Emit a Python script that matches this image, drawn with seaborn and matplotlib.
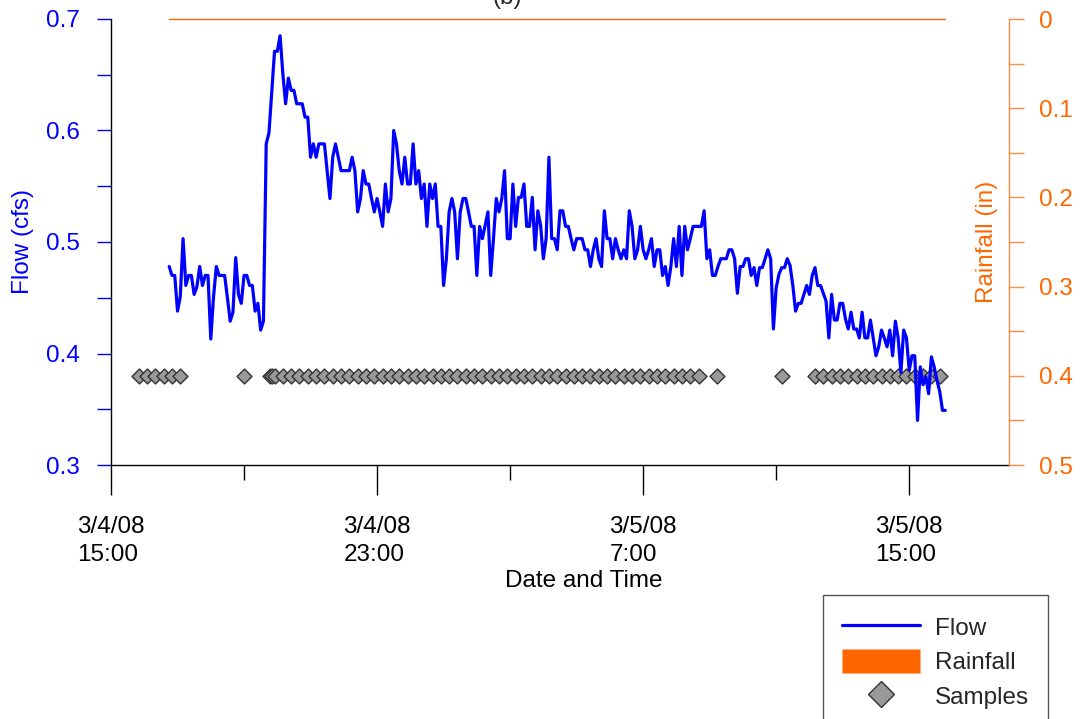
import pandas as pd
import numpy as np
import matplotlib
matplotlib.use("Agg")
import matplotlib.pyplot as plt
import matplotlib.dates as mdates
from matplotlib.ticker import MultipleLocator, FuncFormatter
from matplotlib.lines import Line2D
from matplotlib.patches import Patch
import seaborn as sns

# --- data ---
# flow (cfs), 5-minute record starting 3/4/08 16:45
flow_start = "2008-03-04 16:45"
flow_cfs = [
    0.478, 0.470, 0.470, 0.438, 0.451, 0.503, 0.461, 0.470, 0.470, 0.453,
    0.460, 0.478, 0.461, 0.470, 0.470, 0.413, 0.451, 0.478, 0.470, 0.470,
    0.470, 0.450, 0.429, 0.437, 0.486, 0.453, 0.445, 0.470, 0.470, 0.461,
    0.461, 0.438, 0.445, 0.421, 0.429, 0.588, 0.598, 0.635, 0.671, 0.671,
    0.685, 0.651, 0.624, 0.647, 0.636, 0.636, 0.624, 0.624, 0.624, 0.612,
    0.612, 0.576, 0.588, 0.576, 0.588, 0.588, 0.588, 0.563, 0.539, 0.576,
    0.588, 0.576, 0.564, 0.564, 0.564, 0.564, 0.576, 0.564, 0.527, 0.539,
    0.564, 0.552, 0.552, 0.539, 0.527, 0.539, 0.527, 0.514, 0.552, 0.527,
    0.539, 0.600, 0.588, 0.564, 0.552, 0.576, 0.552, 0.552, 0.588, 0.552,
    0.564, 0.539, 0.552, 0.514, 0.552, 0.539, 0.552, 0.514, 0.514, 0.461,
    0.485, 0.527, 0.539, 0.527, 0.485, 0.527, 0.539, 0.539, 0.527, 0.514,
    0.514, 0.470, 0.514, 0.503, 0.515, 0.527, 0.470, 0.503, 0.539, 0.527,
    0.539, 0.564, 0.503, 0.503, 0.552, 0.514, 0.540, 0.540, 0.552, 0.514,
    0.514, 0.540, 0.493, 0.528, 0.515, 0.485, 0.503, 0.576, 0.503, 0.503,
    0.493, 0.528, 0.528, 0.514, 0.514, 0.503, 0.493, 0.503, 0.503, 0.503,
    0.493, 0.493, 0.478, 0.493, 0.503, 0.485, 0.478, 0.528, 0.503, 0.503,
    0.485, 0.503, 0.493, 0.485, 0.493, 0.485, 0.528, 0.514, 0.485, 0.493,
    0.514, 0.493, 0.485, 0.493, 0.503, 0.478, 0.493, 0.493, 0.470, 0.478,
    0.461, 0.478, 0.503, 0.478, 0.514, 0.470, 0.514, 0.493, 0.503, 0.514,
    0.514, 0.514, 0.514, 0.528, 0.485, 0.493, 0.470, 0.470, 0.478, 0.485,
    0.485, 0.485, 0.493, 0.493, 0.485, 0.454, 0.478, 0.478, 0.485, 0.485,
    0.470, 0.477, 0.461, 0.477, 0.477, 0.485, 0.493, 0.485, 0.422, 0.459,
    0.471, 0.477, 0.477, 0.485, 0.479, 0.461, 0.438, 0.445, 0.445, 0.453,
    0.461, 0.453, 0.470, 0.477, 0.461, 0.461, 0.454, 0.447, 0.414, 0.453,
    0.430, 0.430, 0.445, 0.445, 0.431, 0.422, 0.437, 0.422, 0.422, 0.414,
    0.437, 0.414, 0.414, 0.430, 0.414, 0.398, 0.406, 0.421, 0.414, 0.406,
    0.421, 0.398, 0.429, 0.414, 0.383, 0.421, 0.414, 0.385, 0.398, 0.398,
    0.340, 0.388, 0.372, 0.379, 0.364, 0.397, 0.388, 0.376, 0.366, 0.349,
    0.349,
]

# rainfall (in), 20-minute record over the same period (no rain fell)
rain_start = "2008-03-04 16:45"
rain_in = [0.0] * 71

# sample collection times
samples_mar4 = [
    "15:50", "16:05", "16:20", "16:35", "16:50", "17:05", "19:00",
    "19:46", "19:50", "19:55", "20:10", "20:25", "20:40", "20:55", "21:10",
    "21:25", "21:40", "21:55", "22:10", "22:25", "22:40", "22:55", "23:10",
    "23:25", "23:40", "23:55",
]
samples_mar5 = [
    "00:10", "00:25", "00:40", "00:55", "01:10", "01:25", "01:40", "01:55",
    "02:10", "02:25", "02:40", "02:55", "03:10", "03:25", "03:40", "03:55",
    "04:10", "04:25", "04:40", "04:55", "05:10", "05:25", "05:40", "05:55",
    "06:10", "06:25", "06:40", "06:55", "07:10", "07:25", "07:40", "07:55",
    "08:10", "08:25", "08:40", "09:13", "11:10",
    "12:10", "12:25", "12:40", "12:55", "13:10", "13:25", "13:40", "13:55",
    "14:10", "14:25", "14:40", "14:55", "15:10", "15:25", "15:40", "15:55",
]
sample_level = 0.38  # plotted on the flow axis

FLOW_C = "#0000FF"
RAIN_C = "#FF6600"
FS = 17.5

flow_df = pd.DataFrame({
    "time": pd.date_range(flow_start, periods=len(flow_cfs), freq="5min"),
    "flow": flow_cfs,
})
rain_df = pd.DataFrame({
    "time": pd.date_range(rain_start, periods=len(rain_in), freq="20min"),
    "rain": rain_in,
})
sample_times = ["2008-03-04 " + t for t in samples_mar4] + ["2008-03-05 " + t for t in samples_mar5]
samp_df = pd.DataFrame({"time": pd.to_datetime(sample_times)})
samp_df["level"] = sample_level

sns.set_theme(style="white")
plt.rcParams["font.family"] = ["Liberation Sans", "DejaVu Sans"]

fig = plt.figure(figsize=(10.81, 7.19), dpi=100)
ax = fig.add_axes([111 / 1081, 1 - 465 / 719, 898 / 1081, 446 / 719])
ax2 = ax.twinx()

# samples below the flow line
sns.scatterplot(data=samp_df, x="time", y="level", ax=ax, marker="D", s=58,
                color="#999999", edgecolor="#333333", linewidth=1, zorder=2, legend=False)
sns.lineplot(data=flow_df, x="time", y="flow", ax=ax, color=FLOW_C, linewidth=2.3,
             zorder=3, legend=False)
sns.lineplot(data=rain_df, x="time", y="rain", ax=ax2, color=RAIN_C, linewidth=1,
             legend=False, clip_on=False)

# x axis
ax.set_xlim(pd.Timestamp("2008-03-04 15:00"), pd.Timestamp("2008-03-05 18:00"))
ax.xaxis.set_major_locator(mdates.HourLocator(byhour=[7, 15, 23]))
ax.xaxis.set_minor_locator(mdates.HourLocator(byhour=[3, 11, 19]))


def fmt_date(v, pos):
    d = mdates.num2date(v)
    return f"{d.month}/{d.day}/{d:%y}\n{d.hour}:{d:%M}"


ax.xaxis.set_major_formatter(FuncFormatter(fmt_date))
ax.tick_params(axis="x", which="major", bottom=True, direction="out", length=21.6,
               width=1, color="black", pad=15, labelsize=FS, labelcolor="black")
ax.tick_params(axis="x", which="minor", bottom=True, direction="out", length=10.8,
               width=1, color="black")
ax.set_xlabel("Date and Time", fontsize=FS, color="black")
ax.xaxis.set_label_coords((584 - 111) / 898, (465 - 570) / 446)

# flow axis
ax.set_ylim(0.3, 0.7)
ax.yaxis.set_major_locator(MultipleLocator(0.1))
ax.yaxis.set_minor_locator(MultipleLocator(0.05))
ax.yaxis.set_major_formatter(FuncFormatter(lambda v, p: f"{v:.1f}"))
ax.tick_params(axis="y", which="both", left=True, direction="out", length=10.3,
               width=1, color=FLOW_C, labelcolor=FLOW_C, labelsize=FS, pad=12)
ax.set_ylabel("Flow (cfs)", fontsize=FS, color=FLOW_C)
ax.yaxis.set_label_coords((34 - 111) / 898, 0.5)

# rainfall axis, inverted
ax2.set_ylim(0.5, 0)
ax2.yaxis.set_major_locator(MultipleLocator(0.1))
ax2.yaxis.set_minor_locator(MultipleLocator(0.05))
ax2.yaxis.set_major_formatter(FuncFormatter(lambda v, p: f"{v:g}"))
ax2.tick_params(axis="y", which="both", right=True, direction="out", length=10.8,
                width=1, color="#FF8C40", labelcolor=RAIN_C, labelsize=FS, pad=11)
ax2.set_ylabel("Rainfall (in)", fontsize=FS, color=RAIN_C)
ax2.yaxis.set_label_coords((976 - 111) / 898, 0.5)

for a in (ax, ax2):
    a.grid(False)
    a.spines["top"].set_visible(False)
ax.spines["right"].set_visible(False)
ax.spines["left"].set_color("black")
ax.spines["bottom"].set_color("black")
ax.spines["left"].set_linewidth(1)
ax.spines["bottom"].set_linewidth(1)
ax2.spines["left"].set_visible(False)
ax2.spines["bottom"].set_visible(False)
ax2.spines["right"].set_color("#FF8C40")
ax2.spines["right"].set_linewidth(1)
ax.patch.set_visible(False)

# partial title at the very top (cut off by the figure edge, as in the source)
fig.text(507 / 1081, 1 - 9 / 719, "(b)", ha="center", va="bottom", fontsize=FS)

handles = [
    Line2D([], [], color=FLOW_C, linewidth=2.3),
    Patch(facecolor=RAIN_C, edgecolor="#FFB080", linewidth=0.5),
    Line2D([], [], marker="D", linestyle="none", markersize=13,
           markerfacecolor="#999999", markeredgecolor="#333333"),
]
leg = fig.legend(handles, ["Flow", "Rainfall", "Samples"], loc="upper left",
                 bbox_to_anchor=(823 / 1081, 1 - 595 / 719), frameon=True,
                 fancybox=False, framealpha=1, edgecolor="#555555", fontsize=FS,
                 handlelength=3.2, handleheight=1.15, labelspacing=0.38,
                 handletextpad=0.6, borderpad=0.8, borderaxespad=0)
leg.get_frame().set_linewidth(1)

fig.canvas.draw()
for lbl in ax.get_xticklabels():
    lbl.set_multialignment("left")
    lbl.set_linespacing(1.35)

fig.savefig("out.png", dpi=100)
